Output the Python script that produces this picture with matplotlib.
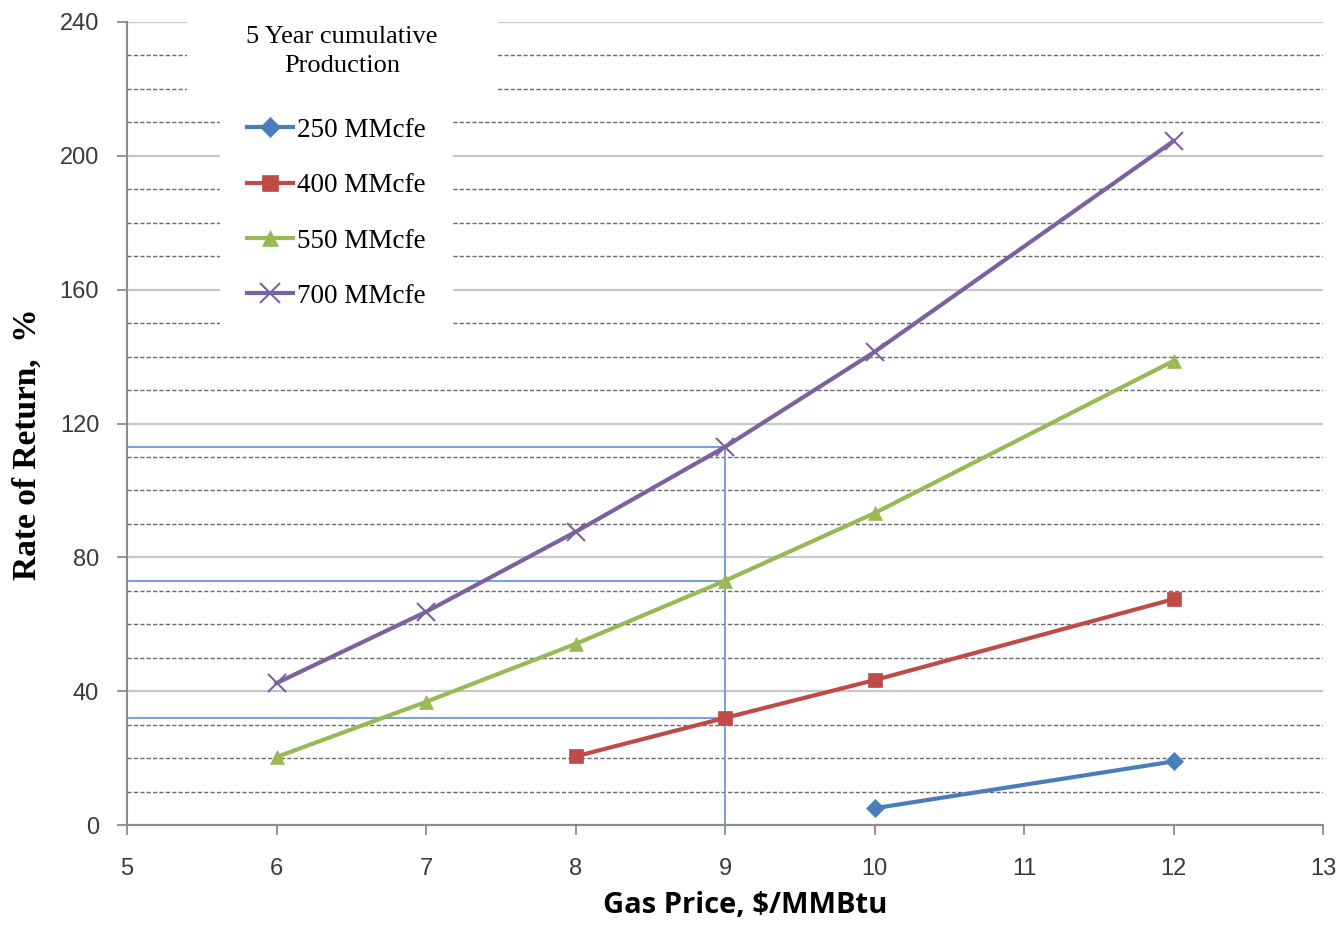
import matplotlib
matplotlib.use("Agg")
import matplotlib.pyplot as plt
from matplotlib.patches import Rectangle
from matplotlib.ticker import MultipleLocator

# Rate of return vs. gas price for four 5-year cumulative production levels
price_250 = [10, 12]
ror_250 = [5, 19]

price_400 = [8, 9, 10, 12]
ror_400 = [20.5, 32, 43.3, 67.5]

price_550 = [6, 7, 8, 9, 10, 12]
ror_550 = [20.3, 36.8, 54.1, 73, 93.2, 138.7]

price_700 = [6, 7, 8, 9, 10, 12]
ror_700 = [42.4, 63.7, 87.6, 113, 141.4, 204.4]

labels = ["250 MMcfe", "400 MMcfe", "550 MMcfe", "700 MMcfe"]
legend_title = "5 Year cumulative\nProduction"
x_ticks = [5, 6, 7, 8, 9, 10, 11, 12, 13]
y_ticks = [0, 40, 80, 120, 160, 200, 240]
read_price = 9

colors = ["#4A7EBB", "#BE4B48", "#98B954", "#7D60A0"]
markers = ["D", "s", "^", "x"]
msizes = [9.5, 10.5, 10.5, 12.5]

fig = plt.figure(figsize=(13.43, 9.25), dpi=100)
ax = fig.add_axes([127 / 1343, 1 - 825 / 925, 1196 / 1343, 803 / 925])

ax.set_xlim(5, 13)
ax.set_ylim(0, 240)
ax.set_xticks(x_ticks)
ax.set_yticks(y_ticks)
ax.yaxis.set_minor_locator(MultipleLocator(10))

ax.set_axisbelow(True)
ax.grid(axis="y", which="major", color="#C6C6C6", linewidth=1.6, linestyle="-")
ax.grid(axis="y", which="minor", color="#6A6A6A", linewidth=1.0, linestyle=(0, (3, 1.6)))

for side in ("top", "right"):
    ax.spines[side].set_visible(False)
for side in ("left", "bottom"):
    ax.spines[side].set_color("#8C8C8C")
    ax.spines[side].set_linewidth(1.5)

ax.tick_params(axis="both", which="major", direction="out", length=7, width=1.3,
               color="#8C8C8C", labelcolor="#3A3A3A", labelsize=17)
ax.tick_params(axis="y", which="minor", length=0)
ax.tick_params(axis="y", pad=13)
ax.tick_params(axis="x", pad=17)
for lab in ax.get_xticklabels() + ax.get_yticklabels():
    lab.set_fontfamily("Liberation Sans")

# white boxes behind the legend title and entries
ax.add_patch(Rectangle((5.40, 216.5), 2.08, 24.5, transform=ax.transData,
                       facecolor="white", edgecolor="none", zorder=1, clip_on=False))
ax.add_patch(Rectangle((5.62, 146.0), 1.56, 71.0, transform=ax.transData,
                       facecolor="white", edgecolor="none", zorder=1))

# guide lines reading the returns at the chosen price
i9_700 = price_700.index(read_price)
i9_550 = price_550.index(read_price)
i9_400 = price_400.index(read_price)
guide = "#7EA3D3"
ax.plot([5, read_price], [ror_700[i9_700]] * 2, color=guide, lw=1.5, zorder=2)
ax.plot([5, read_price], [ror_550[i9_550]] * 2, color=guide, lw=1.5, zorder=2)
ax.plot([5, read_price], [ror_400[i9_400]] * 2, color=guide, lw=1.5, zorder=2)
ax.plot([read_price, read_price], [0, ror_700[i9_700]], color=guide, lw=1.5, zorder=2)

series = [(price_250, ror_250), (price_400, ror_400), (price_550, ror_550), (price_700, ror_700)]
handles = []
for (xs, ys), c, m, ms, lab in zip(series, colors, markers, msizes, labels):
    h, = ax.plot(xs, ys, color=c, lw=3.0, marker=m, markersize=ms,
                 markeredgewidth=1.5 if m == "x" else 0.5, markeredgecolor=c,
                 markerfacecolor=c, label=lab, zorder=3)
    handles.append(h)

leg = ax.legend(handles=handles, loc="center", bbox_to_anchor=(6.40, 182.8),
                bbox_transform=ax.transData, frameon=False,
                prop={"family": "Liberation Serif", "size": 19.5},
                handlelength=1.7, handletextpad=0.12, labelspacing=1.12,
                borderpad=0, markerscale=1.1)

ax.text(6.438, 231.3, legend_title, ha="center", va="center",
        fontsize=19, family="Liberation Serif", linespacing=1.4, zorder=4)

ax.set_ylabel("Rate of Return,  %", fontsize=24, fontweight="bold",
              family="Liberation Serif", color="black")
ax.yaxis.set_label_coords(-0.083, 0.474)
ax.set_xlabel("Gas Price, $/MMBtu", fontsize=21, fontweight="bold",
              family="Open Sans", color="black")
ax.xaxis.set_label_coords(0.517, -0.1)
ax.xaxis.label.set_va("center")
ax.yaxis.label.set_va("center")

fig.savefig("out.png", dpi=100, facecolor="white")
